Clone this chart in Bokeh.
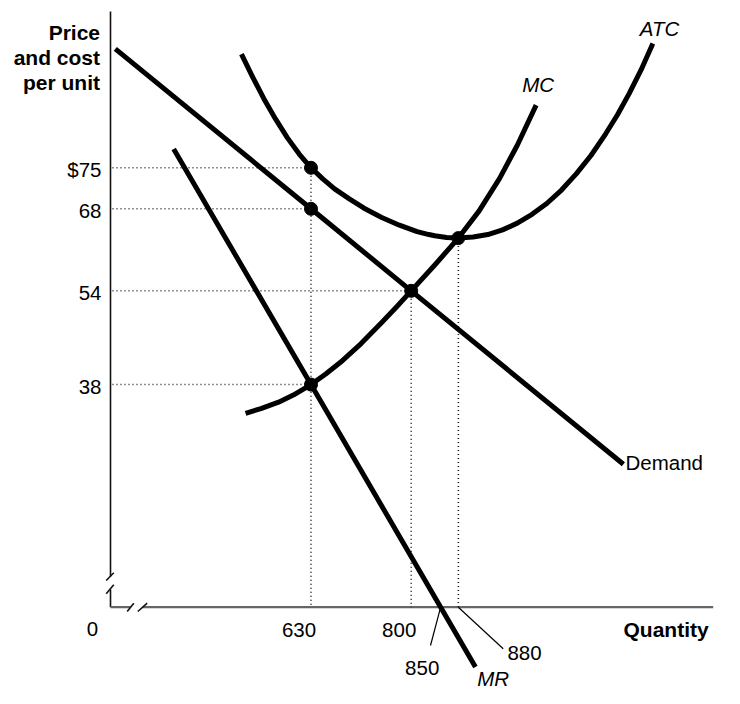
from bokeh.plotting import figure
from bokeh.models import Range1d
from bokeh.core.properties import value
from bokeh.embed import file_html
from bokeh.resources import INLINE

# ---------------- data ----------------
price_ticks = [75, 68, 54, 38]
price_labels = ["$75", "68", "54", "38"]
qty_ticks = [630, 800, 850, 880]

demand_q = [298, 630, 800, 1160]
demand_p = [95.3, 68, 54, 24.4]

mr_q = [397, 630, 850, 909]
mr_p = [78.2, 38, 0, -10.2]

mc_q = [519, 545, 575, 600, 630, 655, 680, 715, 750, 775, 800, 840, 880, 915, 950, 980, 1012]
mc_p = [33.1, 33.9, 35.0, 36.2, 38.0, 39.8, 41.8, 45.0, 48.6, 51.25, 54.0, 58.4, 63.0, 67.6, 73.2, 78.85, 85.7]

atc_q = [512, 530, 550, 570, 590, 610, 630, 650, 670, 695, 720, 750, 780, 810, 830, 840, 860, 880,
         905, 930, 955, 980, 1005, 1030, 1055, 1080, 1105, 1130, 1150, 1170, 1190, 1210]
atc_p = [94.4, 90.7, 86.8, 83.3, 80.1, 77.35, 75.0, 73.1, 71.4, 69.7, 68.1, 66.5, 65.2, 64.1, 63.6, 63.4, 63.1, 63.0,
         63.2, 63.6, 64.4, 65.55, 67.05, 68.9, 71.2, 73.95, 77.1, 80.8, 84.05, 87.7, 91.7, 96.2]

# key points: (quantity, price)
pt_q = [630, 630, 630, 800, 880]
pt_p = [75, 68, 38, 54, 63]

# ---------------- layout helpers (pixel -> data) ----------------
W, H = 740, 704
Q0, PX0, KX = 630.0, 310.5, 0.5894   # quantity 630 sits at pixel 310.5
PY0, KY = 606.7, 5.859               # price 0 sits at pixel 606.7


def qx(px):
    return Q0 + (px - PX0) / KX


def pv(py):
    return (PY0 - py) / KY


FONT = value("Liberation Sans")
FS = "20.5px"
FSB = "21px"

p = figure(width=W, height=H, x_range=Range1d(qx(0), qx(W)), y_range=Range1d(pv(H), pv(0)),
           x_axis_location=None, y_axis_location=None, toolbar_location=None,
           output_backend="svg", min_border=0, outline_line_color=None,
           background_fill_color="white", border_fill_color="white")
p.xgrid.visible = False
p.ygrid.visible = False

# ---------------- axes with break marks ----------------
q_axis = qx(110)
p.segment(x0=[q_axis, q_axis], y0=[pv(11), pv(589)], x1=[q_axis, q_axis], y1=[pv(576), 0],
          line_color="#111111", line_width=1.6)
p.segment(x0=[q_axis, qx(142)], y0=[0, 0], x1=[qx(130), qx(712.7)], y1=[0, 0],
          line_color="#666666", line_width=2.2)
# break slashes
p.segment(x0=[qx(105.7), qx(105.7), qx(126.7), qx(137.3)],
          y0=[pv(580), pv(593.3), pv(611), pv(611)],
          x1=[qx(113.3), qx(113.3), qx(133.3), qx(146.7)],
          y1=[pv(572.3), pv(584.3), pv(602.7), pv(602.7)],
          line_color="#111111", line_width=1.6)

# ---------------- dotted guides ----------------
hx0 = [qx(112)] * 4
p.segment(x0=hx0, y0=pt_p[:4], x1=pt_q[:4], y1=pt_p[:4],
          line_color="#222222", line_width=1.6, line_dash="1 3")
vq = [630, 800, 880]
vtop = [max(pp for qq, pp in zip(pt_q, pt_p) if qq == v) for v in vq]
p.segment(x0=vq, y0=vtop, x1=vq, y1=[0] * len(vq),
          line_color="#222222", line_width=1.6, line_dash="1 3")

# ---------------- curves ----------------
for xs, ys in [(demand_q, demand_p), (mr_q, mr_p), (mc_q, mc_p), (atc_q, atc_p)]:
    p.line(xs, ys, line_color="black", line_width=5, line_cap="butt", line_join="round")

p.scatter(pt_q, pt_p, size=13, color="black")

# ---------------- leader lines for 850 / 880 ----------------
p.segment(x0=[qty_ticks[2], qty_ticks[3]], y0=[0, 0],
          x1=[qx(430), qx(502.7)], y1=[pv(645), pv(648.3)],
          line_color="black", line_width=1.2)

# ---------------- texts ----------------
p.text(x=[qx(99.5)] * 3, y=[pv(32), pv(57), pv(82)], text=["Price", "and cost", "per unit"],
       text_font=FONT, text_font_size=FSB, text_font_style="bold",
       text_align="right", text_baseline="alphabetic", text_color="black")

p.text(x=[qx(101)] * len(price_ticks), y=price_ticks, text=price_labels,
       text_font=FONT, text_font_size=FS, text_align="right", text_baseline="middle",
       y_offset=2, text_color="black")

p.text(x=[qx(92)], y=[pv(628)], text=["0"], text_font=FONT, text_font_size=FS,
       text_align="center", text_baseline="middle", text_color="black")

p.text(x=qty_ticks[:2], y=[pv(629)] * 2, text=[str(v) for v in qty_ticks[:2]],
       text_font=FONT, text_font_size=FS, text_align="center", text_baseline="middle",
       x_offset=-12, text_color="black")
p.text(x=[qx(421.7)], y=[pv(667)], text=[str(qty_ticks[2])], text_font=FONT,
       text_font_size=FS, text_align="center", text_baseline="middle", text_color="black")
p.text(x=[qx(524)], y=[pv(652)], text=[str(qty_ticks[3])], text_font=FONT,
       text_font_size=FS, text_align="center", text_baseline="middle", text_color="black")

p.text(x=[qx(623)], y=[pv(629)], text=["Quantity"], text_font=FONT, text_font_size=FSB,
       text_font_style="bold", text_align="left", text_baseline="middle", text_color="black")

p.text(x=[qx(476.7), qx(521.7), qx(639.3)], y=[pv(678), pv(84), pv(28)],
       text=["MR", "MC", "ATC"], text_font=FONT, text_font_size=FS,
       text_font_style="italic", text_align="left", text_baseline="middle", text_color="black")

p.text(x=[qx(625)], y=[pv(461.7)], text=["Demand"], text_font=FONT, text_font_size=FS,
       text_align="left", text_baseline="middle", text_color="black")

open("out.html", "w").write(file_html(p, INLINE))
